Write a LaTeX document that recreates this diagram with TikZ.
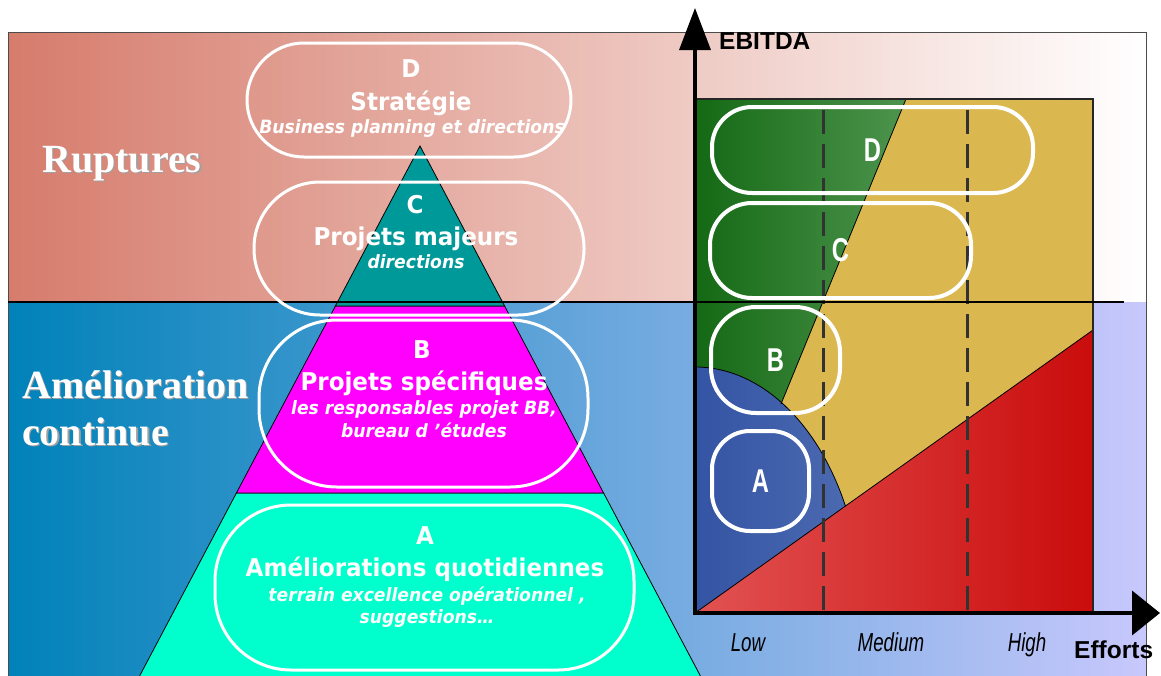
\documentclass[tikz,border=0pt]{standalone}
\usepackage{fontspec}
\setmainfont{Liberation Serif}
\newfontfamily\tah[FakeStretch=0.94]{DejaVu Sans}
\newfontfamily\arl{Liberation Sans}
\newfontfamily\arn[FakeStretch=0.72]{Liberation Sans}
\usetikzlibrary{arrows.meta}

\definecolor{rupL}{RGB}{214,124,108}
\definecolor{ameL}{RGB}{0,130,185}
\definecolor{ameM}{RGB}{138,167,221}
\definecolor{ameR}{RGB}{200,200,252}
\definecolor{tealC}{RGB}{0,153,153}
\definecolor{magC}{RGB}{255,0,255}
\definecolor{aquaC}{RGB}{0,255,204}
\definecolor{goldC}{RGB}{219,183,80}
\definecolor{greenD}{RGB}{20,105,20}
\definecolor{greenL}{RGB}{78,148,78}
\definecolor{blueD}{RGB}{25,60,150}
\definecolor{blueL}{RGB}{78,108,178}
\definecolor{redL}{RGB}{226,82,82}
\definecolor{redD}{RGB}{202,12,12}
\definecolor{dashC}{RGB}{50,50,50}
\definecolor{shadowC}{RGB}{160,160,160}

\begin{document}
\begin{tikzpicture}[x=1pt,y=-1pt,
  lbl/.style={inner sep=0pt, text=white, anchor=base},
  ttl/.style={lbl, font=\tah\bfseries\fontsize{24.5}{24.5}\selectfont},
  sub/.style={lbl, font=\tah\bfseries\itshape\fontsize{18.3}{18.3}\selectfont},
  big/.style={inner sep=0pt, anchor=base west, font=\bfseries\fontsize{40}{40}\selectfont},
  pill/.style={draw=white, line width=3pt, inner sep=0pt},
  chartpill/.style={draw=white, line width=4pt, inner sep=0pt, text=white,
    font=\arn\bfseries\fontsize{33}{33}\selectfont},
  axislbl/.style={inner sep=0pt, anchor=base west, font=\arl\bfseries\fontsize{24.5}{24.5}\selectfont},
  level/.style={inner sep=0pt, anchor=base, font=\arn\itshape\fontsize{26}{26}\selectfont},
  border/.style={draw=black, line width=0.8pt},
  guide/.style={dashC, line width=3pt, dash pattern=on 24pt off 10pt}
]
\clip (0,0) rectangle (1161,675);
\fill[white] (0,0) rectangle (1161,675);

% background bands
\shade[left color=rupL, right color=white] (8,32) rectangle (1146,302);
\shade[left color=ameL, middle color=ameM, right color=ameR] (8,302) rectangle (1146,700);
\draw[black!70, line width=0.8pt] (8,32) rectangle (1146,700);

% pyramid
\filldraw[fill=aquaC, border] (236.4,493) -- (603.6,493) -- (720,713) -- (120,713) -- cycle;
\filldraw[fill=magC, border] (335.4,306) -- (504.6,306) -- (603.6,493) -- (236.4,493) -- cycle;
\filldraw[fill=tealC, border] (420,146) -- (504.6,306) -- (335.4,306) -- cycle;

% chart regions
\fill[goldC] (695,99) rectangle (1093,613);
\shade[left color=greenD, right color=greenL] (695,99) -- (906,99) -- (760,455) -- (695,455) -- cycle;
\begin{scope}
  \clip (695,99) rectangle (1093,613);
  \shade[left color=blueD, right color=blueL] (695,613) ellipse [x radius=167pt, y radius=246pt];
\end{scope}
\shade[left color=redL, right color=redD] (695,613) -- (1093,330) -- (1093,613) -- cycle;
\draw[border] (906,99) -- (781,404);
\begin{scope}
  \clip (695,99) -- (1093,99) -- (1093,330) -- (695,613) -- cycle;
  \draw[border] (695,613) ellipse [x radius=167pt, y radius=246pt];
\end{scope}
\draw[border] (695,613) -- (1093,330);
\draw[black!85, line width=1.2pt] (695,99) rectangle (1093,613);

% effort levels
\draw[guide] (823,110) -- (823,610);
\draw[guide] (967,110) -- (967,610);

% separation between the two bands
\draw[line width=2.8pt] (8,302) -- (1124,302);

% axes
\coordinate (O) at (695,613);
\coordinate (yTop) at (695,8);
\coordinate (xEnd) at (1160,613);
\coordinate (xStart) at (693,613);
\draw[line width=3.5pt, -{Triangle[length=42pt, width=31pt]}] (O) -- (yTop);
\draw[line width=4pt, -{Triangle[length=28pt, width=44pt]}] (xStart) -- (xEnd);
\node[axislbl] (ebitda) at (719,49) {EBITDA};
\node[axislbl] (efforts) at (1074,658) {Efforts};
\node[level] (low) at (748,651) {Low};
\node[level] (medium) at (891,651) {Medium};
\node[level] (high) at (1027,651) {High};

% chart zones
\node[chartpill, minimum width=321pt, minimum height=86pt, rounded corners=40pt] (cD) at (872.5,150) {D};
\node[chartpill, minimum width=261pt, minimum height=95pt, rounded corners=42pt] (cC) at (840.5,250.5) {C};
\node[chartpill, minimum width=129pt, minimum height=106pt, rounded corners=45pt] (cB) at (775.5,360) {B};
\node[chartpill, minimum width=97pt, minimum height=100pt, rounded corners=38pt] (cA) at (760.5,481) {A};

% side labels
\node[big, text=shadowC] (rupS) at (43.2,173.2) {Ruptures};
\node[big, text=white] (rup) at (42,172) {Ruptures};
\node[big, text=shadowC] (ameS) at (23.2,399.2) {Amélioration};
\node[big, text=white] (ame) at (22,398) {Amélioration};
\node[big, text=shadowC] (conS) at (23.2,446.2) {continue};
\node[big, text=white] (con) at (22,445) {continue};

% pyramid levels
\node[pill, minimum width=324pt, minimum height=114pt, rounded corners=57pt] (ovD) at (409,100) {};
\node[pill, minimum width=330pt, minimum height=133pt, rounded corners=66pt] (ovC) at (419,248.5) {};
\node[pill, minimum width=329pt, minimum height=167pt, rounded corners=78pt] (ovB) at (423.5,403.5) {};
\node[pill, minimum width=419pt, minimum height=165pt, rounded corners=76pt] (ovA) at (424.5,587.5) {};

\node[ttl] (dL) at (411,77) {D};
\node[ttl] (dT) at (411,110) {Stratégie};
\node[sub] (dS) at (412,133) {Business planning et directions};

\node[ttl] (cL) at (415,213) {C};
\node[ttl] (cT) at (416,245) {Projets majeurs};
\node[sub] (cS) at (416,268) {directions};

\node[ttl] (bL) at (422,358) {B};
\node[ttl] (bT) at (424,390) {Projets spécifiques};
\node[sub] (bS1) at (424,414) {les responsables projet BB,};
\node[sub] (bS2) at (424,437) {bureau d ’études};

\node[ttl] (aL) at (425,544) {A};
\node[ttl] (aT) at (425,576) {Améliorations quotidiennes};
\node[sub] (aS1) at (427,601) {terrain excellence opérationnel ,};
\node[sub] (aS2) at (427,623) {suggestions…};
\end{tikzpicture}
\end{document}
